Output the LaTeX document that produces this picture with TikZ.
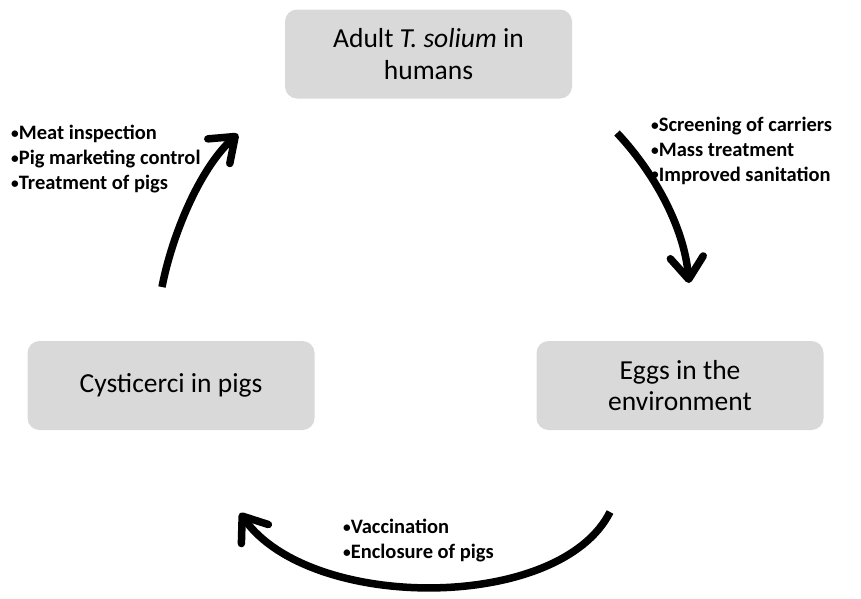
\documentclass[tikz,border=0pt]{standalone}
\usepackage{fontspec}
\usepackage{graphicx}
\setmainfont{Carlito}
\usetikzlibrary{arrows.meta}
\newcommand{\smallbul}{\raisebox{0.12ex}{\scalebox{0.75}{\textbullet}}}
\tikzset{
  stagebox/.style={draw=none, fill=boxgrey, rounded corners=12pt, minimum width=287pt, minimum height=89pt, align=center, font=\fontsize{27.5}{31.5}\selectfont, inner sep=0pt},
  cyclearrow/.style={line width=7.5pt, -{Straight Barb[length=22pt,width=33pt,line width=7.5pt,round]}},
  measures/.style={align=left, anchor=north west, font=\bfseries\fontsize{20.5}{24.8}\selectfont, inner sep=0pt}
}
\definecolor{boxgrey}{HTML}{D9D9D9}
\begin{document}
\begin{tikzpicture}[x=1pt,y=-1pt]
\useasboundingbox (0,0) rectangle (861,598);
\node[stagebox] (adult) at (428.5,54) {Adult \textit{T. solium} in\\humans};
\node[stagebox] (cyst) at (171,385.5) {Cysticerci in pigs};
\node[stagebox] (eggs) at (680,385.5) {Eggs in the\\environment};

\coordinate (l0) at (162,287);
\coordinate (l1) at (238,134);
\coordinate (r0) at (617,133);
\coordinate (r1) at (689,283);
\coordinate (b0) at (610,512);
\coordinate (b1) at (240,513);

\draw[cyclearrow] (l0) .. controls (172,235) and (200,168) .. (l1);
\draw[cyclearrow] (r0) .. controls (652,170) and (684,225) .. (r1);
\draw[cyclearrow] (b0) .. controls (560,612) and (310,612) .. (b1);

\node[measures] (m1) at (11,125) {\smallbul Meat inspection\\\smallbul Pig marketing control\\\smallbul Treatment of pigs};
\node[measures] (m2) at (651,117) {\smallbul Screening of carriers\\\smallbul Mass treatment\\\smallbul Improved sanitation};
\node[measures] (m3) at (343,519) {\smallbul Vaccination\\\smallbul Enclosure of pigs};
\end{tikzpicture}
\end{document}
